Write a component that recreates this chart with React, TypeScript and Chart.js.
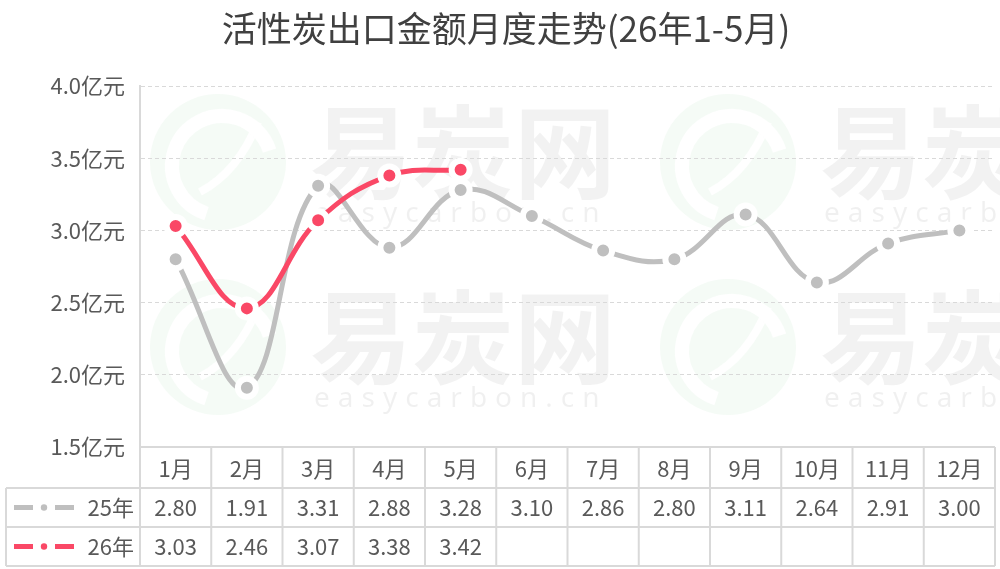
import React, { useEffect, useRef } from 'react';
import Chart from 'chart.js/auto';

const chartTitle = '活性炭出口金额月度走势(26年1-5月)';
const months = ['1月', '2月', '3月', '4月', '5月', '6月', '7月', '8月', '9月', '10月', '11月', '12月'];
const seriesNames = ['25年', '26年'];
const values25 = [2.80, 1.91, 3.31, 2.88, 3.28, 3.10, 2.86, 2.80, 3.11, 2.64, 2.91, 3.00];
const values26 = [3.03, 2.46, 3.07, 3.38, 3.42, null, null, null, null, null, null, null];
const yMin = 1.5;
const yMax = 4.0;
const yStep = 0.5;
const unit = '亿元';
const watermarkName = '易炭网';
const watermarkUrl = 'easycarbon.cn';

const FONT = '"Noto Sans CJK SC", "Noto Sans", sans-serif';
const TEXT = '#595959';
const GRID = '#D9D9D9';
const GRAY = '#BFBFBF';
const RED = '#FA4866';
const seriesColors = [GRAY, RED];

const decorPlugin = {
  id: 'decor',
  beforeDraw(chart: any) {
    const { ctx } = chart;
    ctx.save();
    const tiles = [
      [0, 0],
      [0, 185],
      [510, 0],
      [510, 185],
    ];
    for (const [dx, dy] of tiles) {
      // faint logo disc with a white "e" stroke
      const cx = 218 + dx;
      const cy = 162 + dy;
      ctx.beginPath();
      ctx.arc(cx, cy, 68, 0, Math.PI * 2);
      ctx.fillStyle = 'rgba(225,243,228,0.35)';
      ctx.fill();
      ctx.strokeStyle = 'rgba(255,255,255,0.95)';
      ctx.lineWidth = 14;
      ctx.beginPath();
      ctx.arc(cx + 4, cy + 4, 50, Math.PI * 0.6, Math.PI * 1.9);
      ctx.stroke();
      ctx.lineWidth = 8;
      ctx.beginPath();
      ctx.moveTo(cx - 18, cy + 30);
      ctx.quadraticCurveTo(cx + 20, cy + 10, cx + 40, cy - 40);
      ctx.stroke();
      // name
      ctx.fillStyle = 'rgba(0,0,0,0.05)';
      ctx.font = `bold 102px ${FONT}`;
      ctx.textAlign = 'left';
      ctx.textBaseline = 'middle';
      ctx.fillText(watermarkName, 310 + dx, 152 + dy);
      ctx.font = `28px "Noto Sans", sans-serif`;
      (ctx as any).letterSpacing = '8px';
      ctx.fillStyle = 'rgba(0,0,0,0.06)';
      ctx.fillText(watermarkUrl, 314 + dx, 214 + dy);
      (ctx as any).letterSpacing = '0px';
    }
    ctx.restore();
  },
  afterDraw(chart: any) {
    const { ctx, chartArea } = chart;
    const x = chart.scales.x;
    const n = months.length;
    const colW = x.getPixelForValue(1) - x.getPixelForValue(0);
    const left = x.getPixelForValue(0) - colW / 2;
    const right = x.getPixelForValue(n - 1) + colW / 2;
    const top = chartArea.bottom;
    const hdrBottom = x.bottom;
    const rowH = 39;
    const tableLeft = 6;
    const rows = [values25, values26];
    const bottom = hdrBottom + rowH * rows.length;

    ctx.save();
    // title
    ctx.fillStyle = '#404040';
    ctx.font = `35px ${FONT}`;
    ctx.textAlign = 'center';
    ctx.textBaseline = 'middle';
    ctx.fillText(chartTitle, 506, 29);

    // table lines
    ctx.strokeStyle = GRID;
    ctx.lineWidth = 2;
    ctx.beginPath();
    ctx.moveTo(left, top);
    ctx.lineTo(right, top);
    for (let r = 0; r <= rows.length; r++) {
      const yy = hdrBottom + rowH * r;
      ctx.moveTo(tableLeft, yy);
      ctx.lineTo(right, yy);
    }
    for (let c = 0; c <= n; c++) {
      const xx = left + colW * c;
      ctx.moveTo(xx, top);
      ctx.lineTo(xx, bottom);
    }
    ctx.moveTo(tableLeft, hdrBottom);
    ctx.lineTo(tableLeft, bottom);
    ctx.stroke();

    // rows
    ctx.font = `22px ${FONT}`;
    ctx.textBaseline = 'middle';
    rows.forEach((vals, r) => {
      const cy = hdrBottom + rowH * (r + 0.5);
      const col = seriesColors[r];
      ctx.strokeStyle = col;
      ctx.lineWidth = 5;
      ctx.beginPath();
      ctx.moveTo(14, cy);
      ctx.lineTo(33, cy);
      ctx.moveTo(55, cy);
      ctx.lineTo(74, cy);
      ctx.stroke();
      ctx.beginPath();
      ctx.arc(44, cy, 3.2, 0, Math.PI * 2);
      ctx.fillStyle = col;
      ctx.fill();
      ctx.fillStyle = TEXT;
      ctx.textAlign = 'right';
      ctx.fillText(seriesNames[r], 134, cy);
      ctx.textAlign = 'center';
      vals.forEach((v, i) => {
        if (v === null || v === undefined) return;
        ctx.fillText((v as number).toFixed(2), x.getPixelForValue(i), cy);
      });
    });
    ctx.restore();
  },
};

export default function App() {
  const ref = useRef<HTMLCanvasElement>(null);
  useEffect(() => {
    document.body.style.margin = '0';
    const canvas = ref.current!;
    const pointOpts = (color: string) => ({
      borderColor: color,
      backgroundColor: color,
      pointBackgroundColor: color,
      pointBorderColor: '#FFFFFF',
      pointBorderWidth: 6,
      pointRadius: 9,
      pointHoverRadius: 9,
      borderWidth: 5,
      tension: 0.4,
      fill: false,
      spanGaps: false,
    });
    const chart = new Chart(canvas, {
      type: 'line',
      data: {
        labels: months,
        datasets: [
          { label: seriesNames[0], data: values25, ...pointOpts(GRAY), order: 1 },
          { label: seriesNames[1], data: values26, ...pointOpts(RED), order: 0 },
        ],
      },
      options: {
        responsive: false,
        animation: false,
        devicePixelRatio: 1,
        layout: { autoPadding: false, padding: { top: 86, left: 0, right: 5, bottom: 81 } },
        plugins: {
          legend: { display: false },
          title: { display: false },
          tooltip: { enabled: false },
        },
        scales: {
          x: {
            type: 'category',
            offset: true,
            grid: { display: false, drawTicks: false },
            border: { display: false },
            ticks: {
              color: TEXT,
              font: { size: 22, family: FONT },
              padding: 8,
              maxRotation: 0,
              autoSkip: false,
            },
            afterFit: (s: any) => {
              s.height = 41;
              s.paddingLeft = 0;
              s.paddingRight = 0;
            },
          },
          y: {
            min: yMin,
            max: yMax,
            grid: { color: GRID, lineWidth: 1, drawTicks: false },
            border: { display: true, color: GRID, width: 2, dash: [4, 3] },
            ticks: {
              stepSize: yStep,
              color: TEXT,
              font: { size: 22, family: FONT },
              padding: 15,
              callback: (v: any) => Number(v).toFixed(1) + unit,
            },
            afterFit: (s: any) => {
              s.width = 140;
            },
          },
        },
      },
      plugins: [decorPlugin],
    });
    return () => chart.destroy();
  }, []);
  return (
    <div style={{ width: 1000, height: 569 }}>
      <canvas ref={ref} width={1000} height={569} style={{ display: 'block' }} />
    </div>
  );
}
